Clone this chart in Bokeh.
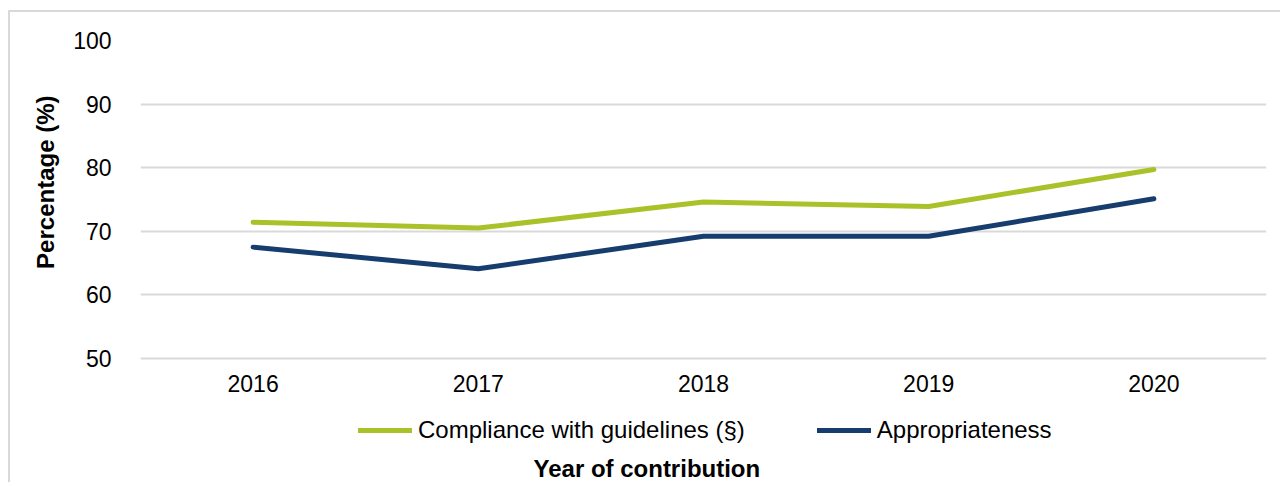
from bokeh.plotting import figure
from bokeh.models import FactorRange, Legend, LegendItem, FixedTicker, Title
from bokeh.embed import file_html
from bokeh.resources import INLINE

years = ["2016", "2017", "2018", "2019", "2020"]
compliance = [71.4, 70.5, 74.6, 73.9, 79.7]
appropriateness = [67.5, 64.1, 69.2, 69.2, 75.1]
y_ticks = [50, 60, 70, 80, 90, 100]
series_names = ["Compliance with guidelines (§)", "Appropriateness"]

GREEN = "#abc12a"
BLUE = "#163d6d"
FONT = "Liberation Sans"

# frame extends below the 50-line so the legend can sit between year labels and title
p = figure(width=1272, height=472, x_range=FactorRange(*years, range_padding=0),
           y_range=(35.2, 100), output_backend="svg", toolbar_location=None,
           min_border_left=130, min_border_right=16, min_border_top=28,
           min_border_bottom=32)
p.styles = {"border-top": "2px solid #d9d9d9", "border-left": "2px solid #d9d9d9",
            "margin-left": "8px", "margin-top": "10px"}
p.outline_line_color = None

r1 = p.line(years, compliance, line_color=GREEN, line_width=5, line_cap="round", line_join="round")
r2 = p.line(years, appropriateness, line_color=BLUE, line_width=5, line_cap="round", line_join="round")

p.xgrid.grid_line_color = None
p.ygrid.grid_line_color = "#d9d9d9"
p.ygrid.grid_line_width = 2
p.yaxis.ticker = FixedTicker(ticks=y_ticks)

for ax in (p.xaxis[0], p.yaxis[0]):
    ax.axis_line_color = None
    ax.major_tick_line_color = None
    ax.minor_tick_line_color = None
    ax.major_label_text_font = FONT
    ax.major_label_text_font_size = "23px"
    ax.major_label_text_color = "#000000"

p.xaxis.fixed_location = y_ticks[0]
p.xaxis.major_label_standoff = 11
p.yaxis.major_label_standoff = 23

legend = Legend(items=[LegendItem(label=series_names[0], renderers=[r1]),
                       LegendItem(label=series_names[1], renderers=[r2])],
                orientation="horizontal", location=(218, 8),
                glyph_width=54, glyph_height=20, label_standoff=6, spacing=72,
                padding=0, margin=0, border_line_color=None, background_fill_alpha=0,
                label_text_font=FONT, label_text_font_size="24px", label_text_color="#000000")
p.add_layout(legend, "center")

xt = Title(text="Year of contribution", align="left", offset=393, text_font=FONT,
           text_font_size="24px", text_font_style="bold", text_color="#000000", standoff=0)
p.add_layout(xt, "below")

yt = Title(text="Percentage (%)", align="right", offset=55, text_font=FONT,
           text_font_size="24px", text_font_style="bold", text_color="#000000", standoff=23)
p.add_layout(yt, "left")

open("out.html", "w").write(file_html(p, INLINE))
